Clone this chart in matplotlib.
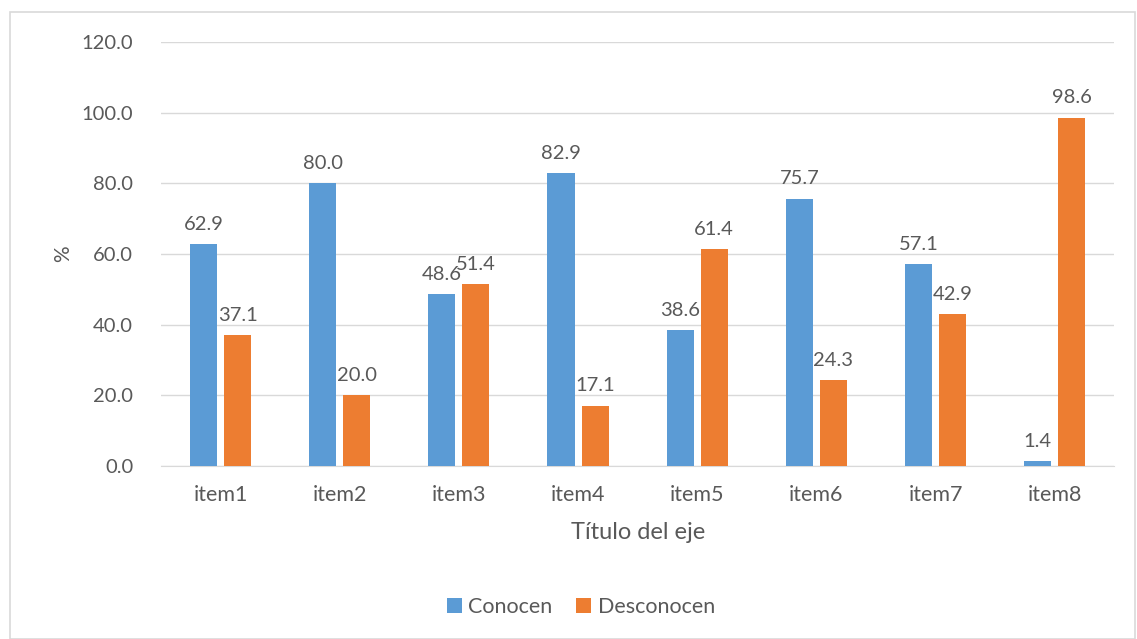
import matplotlib.pyplot as plt
import numpy as np
from matplotlib.patches import Rectangle

items = ['item1', 'item2', 'item3', 'item4', 'item5', 'item6', 'item7', 'item8']
conocen = [62.9, 80.0, 48.6, 82.9, 38.6, 75.7, 57.1, 1.4]
desconocen = [37.1, 20.0, 51.4, 17.1, 61.4, 24.3, 42.9, 98.6]

blue = '#5b9bd5'
orange = '#ed7d31'
txt = '#595959'
grid = '#d9d9d9'

plt.rcParams['font.family'] = ['Lato', 'DejaVu Sans']

fig = plt.figure(figsize=(11.37, 6.39), dpi=100)
ax = fig.add_axes([0.1416, 0.2707, 0.8384, 0.6636])

x = np.arange(len(items))
w = 0.227
off = 0.143
b1 = ax.bar(x - off, conocen, w, color=blue, label='Conocen', zorder=3)
b2 = ax.bar(x + off, desconocen, w, color=orange, label='Desconocen', zorder=3)

for bars, vals in ((b1, conocen), (b2, desconocen)):
    for r, v in zip(bars, vals):
        ax.annotate('%.1f' % v, (r.get_x() + r.get_width() / 2, v),
                    xytext=(0, 8), textcoords='offset points',
                    ha='center', va='bottom', fontsize=14.5, color=txt)

ax.set_xlim(-0.5, len(items) - 0.5)
ax.set_ylim(0, 120)
ax.set_yticks(np.arange(0, 121, 20))
ax.set_yticklabels(['%.1f' % t for t in np.arange(0, 121, 20)])
ax.set_xticks(x)
ax.set_xticklabels(items)
ax.tick_params(length=0, colors=txt)
ax.tick_params(axis='y', labelsize=14.5, pad=20)
ax.tick_params(axis='x', labelsize=15.5, pad=14)
ax.grid(axis='y', color=grid, linewidth=1, zorder=0)
for s in ['top', 'right', 'left']:
    ax.spines[s].set_visible(False)
ax.spines['bottom'].set_color(grid)

ax.set_ylabel('%', fontsize=15, color=txt, labelpad=6)
ax.set_xlabel('Título del eje', fontsize=17, color=txt, labelpad=12)

fig.legend(loc='center', bbox_to_anchor=(0.511, 0.05), ncol=2, frameon=False,
           fontsize=15.5, labelcolor=txt, handlelength=0.7, handleheight=0.7,
           handletextpad=0.3, columnspacing=1.1)

fig.patches.append(Rectangle((10 / 1137, 0), 1 - 12 / 1137, 1 - 12 / 639,
                             transform=fig.transFigure, fill=False,
                             edgecolor=grid, linewidth=1.2))

fig.savefig('out.png', dpi=100)
